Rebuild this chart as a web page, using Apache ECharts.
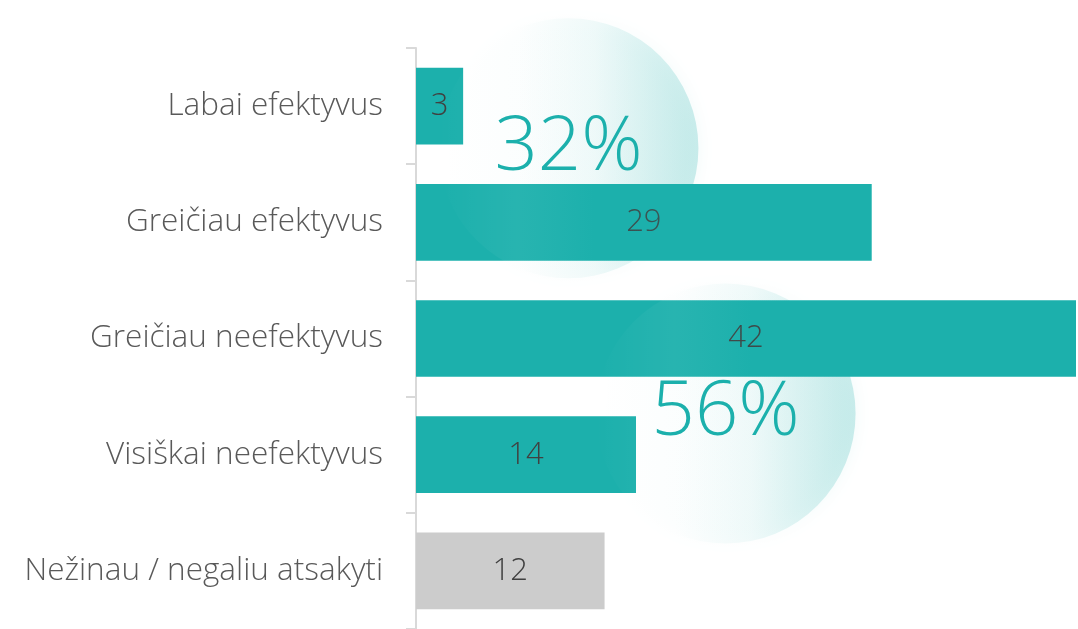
<!DOCTYPE html>
<html>
<head>
<meta charset="utf-8">
<script src="https://cdn.jsdelivr.net/npm/echarts@6/dist/echarts.min.js"></script>
<style>
html,body{margin:0;padding:0;background:#fff;}
#chart{width:1078px;height:629px;}
</style>
</head>
<body>
<div id="chart"></div>
<script>
const categories = ['Labai efektyvus', 'Greičiau efektyvus', 'Greičiau neefektyvus', 'Visiškai neefektyvus', 'Nežinau / negaliu atsakyti'];
const values = [3, 29, 42, 14, 12];
const barColors = ['#1cb0ac', '#1cb0ac', '#1cb0ac', '#1cb0ac', '#cccccc'];
const summaryLabels = ['32%', '56%'];
const summaryStartIndex = [0, 2];

const FONT = '"Open Sans", "Segoe UI", Lato, sans-serif';
const chart = echarts.init(document.getElementById('chart'), null, {renderer: 'canvas'});

// decorative layout (pixels / axis units), not data
const summaryLayout = [
  {xVal: 9.7, dy: -16},
  {xVal: 19.7, dy: 17}
];

const option = {
  animation: false,
  backgroundColor: '#ffffff',
  grid: {left: 416, right: 2, top: 48, bottom: 0, containLabel: false},
  xAxis: {type: 'value', min: 0, max: 42, show: false},
  yAxis: {
    type: 'category',
    inverse: true,
    data: categories,
    axisLine: {show: true, lineStyle: {color: '#d9d9d9', width: 2}},
    axisTick: {show: true, length: 10, lineStyle: {color: '#d9d9d9', width: 2}},
    axisLabel: {fontSize: 31.5, color: '#595959', margin: 33, fontFamily: FONT, fontWeight: 300}
  },
  series: [
    {
      type: 'bar',
      barCategoryGap: '34%',
      z: 2,
      data: values.map((v, i) => ({value: v, itemStyle: {color: barColors[i]}})),
      label: {show: true, position: 'inside', color: '#404040', fontSize: 31, fontFamily: FONT, fontWeight: 300}
    },
    {
      type: 'custom',
      z: 5,
      silent: true,
      encode: {x: 0, y: 1},
      data: summaryStartIndex.map((s, i) => [summaryLayout[i].xVal, s]),
      renderItem: function (params, api) {
        const i = params.dataIndex;
        const idx = api.value(1);
        const xv = api.value(0);
        const p1 = api.coord([xv, idx]);
        const p2 = api.coord([xv, idx + 1]);
        const cx = p1[0];
        const cy = (p1[1] + p2[1]) / 2 + summaryLayout[i].dy;
        const r = 130;
        return {
          type: 'group',
          children: [
            {
              type: 'circle',
              shape: {cx: cx, cy: cy, r: r},
              style: {
                fill: new echarts.graphic.LinearGradient(0, 0, 1, 0, [
                  {offset: 0, color: 'rgba(255,255,255,0.0)'},
                  {offset: 0.3, color: 'rgba(255,255,255,0.05)'},
                  {offset: 0.6, color: 'rgba(28,176,172,0.06)'},
                  {offset: 0.85, color: 'rgba(28,176,172,0.16)'},
                  {offset: 1, color: 'rgba(28,176,172,0.22)'}
                ]),
                shadowBlur: 16,
                shadowColor: 'rgba(28,176,172,0.3)'
              }
            },
            {
              type: 'text',
              x: cx,
              y: cy,
              style: {
                text: summaryLabels[i],
                fill: '#1cb0ac',
                font: '300 76px ' + FONT,
                align: 'center',
                verticalAlign: 'middle'
              }
            }
          ]
        };
      }
    }
  ]
};
chart.setOption(option);
</script>
</body>
</html>
